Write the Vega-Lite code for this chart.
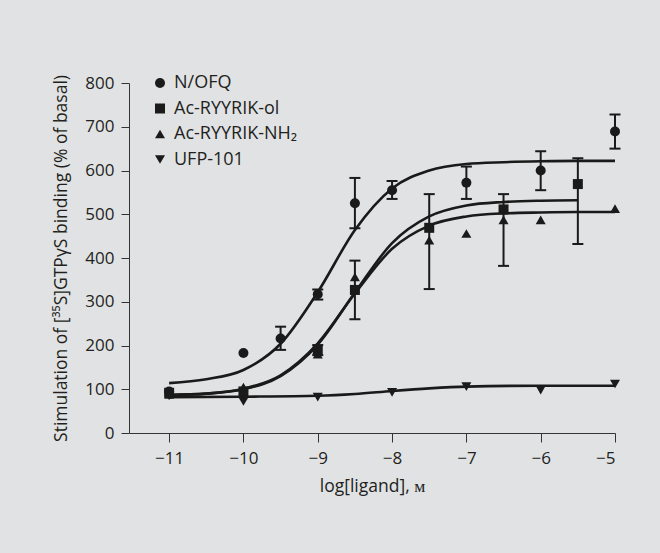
{
  "$schema": "https://vega.github.io/schema/vega-lite/v6.json",
  "width": 486,
  "height": 350,
  "autosize": {"type": "none"},
  "padding": {"left": 129, "top": 83, "right": 45, "bottom": 120},
  "background": "#e1e2e4",
  "config": {
    "view": {"stroke": null},
    "font": "Open Sans",
    "axis": {
      "grid": false,
      "domainColor": "#333333",
      "tickColor": "#333333",
      "domainWidth": 1,
      "tickWidth": 1,
      "labelColor": "#231f20",
      "titleColor": "#231f20",
      "labelFont": "Open Sans",
      "titleFont": "Open Sans",
      "labelFontSize": 17,
      "titleFontSize": 17.5,
      "titleFontWeight": "normal"
    }
  },
  "datasets": {
    "points": [
      {"compound": "N/OFQ", "x": -11, "y": 95},
      {"compound": "N/OFQ", "x": -10, "y": 183},
      {"compound": "N/OFQ", "x": -9.5, "y": 216, "lo": 190, "hi": 243},
      {"compound": "N/OFQ", "x": -9, "y": 317, "lo": 305, "hi": 328},
      {"compound": "N/OFQ", "x": -8.5, "y": 525, "lo": 468, "hi": 583},
      {"compound": "N/OFQ", "x": -8, "y": 555, "lo": 535, "hi": 576},
      {"compound": "N/OFQ", "x": -7, "y": 572, "lo": 535, "hi": 609},
      {"compound": "N/OFQ", "x": -6, "y": 600, "lo": 555, "hi": 644},
      {"compound": "N/OFQ", "x": -5, "y": 689, "lo": 650, "hi": 728},
      {"compound": "Ac-RYYRIK-ol", "x": -11, "y": 92},
      {"compound": "Ac-RYYRIK-ol", "x": -10, "y": 95},
      {"compound": "Ac-RYYRIK-ol", "x": -9, "y": 190, "lo": 178, "hi": 201},
      {"compound": "Ac-RYYRIK-ol", "x": -8.5, "y": 327, "lo": 260, "hi": 394},
      {"compound": "Ac-RYYRIK-ol", "x": -7.5, "y": 469, "lo": 329, "hi": 546},
      {"compound": "Ac-RYYRIK-ol", "x": -6.5, "y": 511, "lo": 382, "hi": 546},
      {"compound": "Ac-RYYRIK-ol", "x": -5.5, "y": 569, "lo": 432, "hi": 628},
      {"compound": "Ac-RYYRIK-NH₂", "x": -11, "y": 88},
      {"compound": "Ac-RYYRIK-NH₂", "x": -10, "y": 105},
      {"compound": "Ac-RYYRIK-NH₂", "x": -9, "y": 180},
      {"compound": "Ac-RYYRIK-NH₂", "x": -8.5, "y": 357},
      {"compound": "Ac-RYYRIK-NH₂", "x": -7.5, "y": 441},
      {"compound": "Ac-RYYRIK-NH₂", "x": -7, "y": 456},
      {"compound": "Ac-RYYRIK-NH₂", "x": -6.5, "y": 487},
      {"compound": "Ac-RYYRIK-NH₂", "x": -6, "y": 487},
      {"compound": "Ac-RYYRIK-NH₂", "x": -5, "y": 513},
      {"compound": "UFP-101", "x": -11, "y": 85},
      {"compound": "UFP-101", "x": -10, "y": 72},
      {"compound": "UFP-101", "x": -9, "y": 82},
      {"compound": "UFP-101", "x": -8, "y": 93},
      {"compound": "UFP-101", "x": -7, "y": 106},
      {"compound": "UFP-101", "x": -6, "y": 98},
      {"compound": "UFP-101", "x": -5, "y": 112}
    ],
    "curves": [
      {"compound": "N/OFQ", "x": -11, "y": 114},
      {"compound": "N/OFQ", "x": -10.5, "y": 123},
      {"compound": "N/OFQ", "x": -10, "y": 144},
      {"compound": "N/OFQ", "x": -9.5, "y": 204},
      {"compound": "N/OFQ", "x": -9, "y": 322},
      {"compound": "N/OFQ", "x": -8.5, "y": 464},
      {"compound": "N/OFQ", "x": -8, "y": 559},
      {"compound": "N/OFQ", "x": -7.5, "y": 600},
      {"compound": "N/OFQ", "x": -7, "y": 615},
      {"compound": "N/OFQ", "x": -6.5, "y": 619},
      {"compound": "N/OFQ", "x": -6, "y": 621},
      {"compound": "N/OFQ", "x": -5.5, "y": 622},
      {"compound": "N/OFQ", "x": -5, "y": 622},
      {"compound": "Ac-RYYRIK-ol", "x": -11, "y": 87},
      {"compound": "Ac-RYYRIK-ol", "x": -10.5, "y": 90},
      {"compound": "Ac-RYYRIK-ol", "x": -10, "y": 100},
      {"compound": "Ac-RYYRIK-ol", "x": -9.5, "y": 130},
      {"compound": "Ac-RYYRIK-ol", "x": -9, "y": 202},
      {"compound": "Ac-RYYRIK-ol", "x": -8.5, "y": 321},
      {"compound": "Ac-RYYRIK-ol", "x": -8, "y": 434},
      {"compound": "Ac-RYYRIK-ol", "x": -7.5, "y": 495},
      {"compound": "Ac-RYYRIK-ol", "x": -7, "y": 520},
      {"compound": "Ac-RYYRIK-ol", "x": -6.5, "y": 528},
      {"compound": "Ac-RYYRIK-ol", "x": -6, "y": 531},
      {"compound": "Ac-RYYRIK-ol", "x": -5.5, "y": 532},
      {"compound": "Ac-RYYRIK-NH₂", "x": -11, "y": 87},
      {"compound": "Ac-RYYRIK-NH₂", "x": -10.5, "y": 90},
      {"compound": "Ac-RYYRIK-NH₂", "x": -10, "y": 101},
      {"compound": "Ac-RYYRIK-NH₂", "x": -9.5, "y": 132},
      {"compound": "Ac-RYYRIK-NH₂", "x": -9, "y": 205},
      {"compound": "Ac-RYYRIK-NH₂", "x": -8.5, "y": 319},
      {"compound": "Ac-RYYRIK-NH₂", "x": -8, "y": 421},
      {"compound": "Ac-RYYRIK-NH₂", "x": -7.5, "y": 474},
      {"compound": "Ac-RYYRIK-NH₂", "x": -7, "y": 495},
      {"compound": "Ac-RYYRIK-NH₂", "x": -6.5, "y": 502},
      {"compound": "Ac-RYYRIK-NH₂", "x": -6, "y": 504},
      {"compound": "Ac-RYYRIK-NH₂", "x": -5.5, "y": 505},
      {"compound": "Ac-RYYRIK-NH₂", "x": -5, "y": 505},
      {"compound": "UFP-101", "x": -11, "y": 82},
      {"compound": "UFP-101", "x": -10, "y": 83},
      {"compound": "UFP-101", "x": -9, "y": 85},
      {"compound": "UFP-101", "x": -8.5, "y": 89},
      {"compound": "UFP-101", "x": -8, "y": 96},
      {"compound": "UFP-101", "x": -7.5, "y": 102},
      {"compound": "UFP-101", "x": -7, "y": 106},
      {"compound": "UFP-101", "x": -6, "y": 108},
      {"compound": "UFP-101", "x": -5, "y": 108}
    ]
  },
  "encoding": {
    "x": {
      "field": "x",
      "type": "quantitative",
      "scale": {"domain": [-11.54, -5], "nice": false, "zero": false},
      "axis": {
        "title": "log[ligand], ᴍ",
        "values": [-11, -10, -9, -8, -7, -6, -5],
        "labelExpr": "datum.value < 0 ? '−' + abs(datum.value) : '' + datum.value",
        "tickSize": 9,
        "labelPadding": 8,
        "titlePadding": 11
      }
    },
    "y": {
      "field": "y",
      "type": "quantitative",
      "scale": {"domain": [0, 800], "nice": false},
      "axis": {
        "title": "Stimulation of [³⁵S]GTPγS binding (% of basal)",
        "values": [0, 100, 200, 300, 400, 500, 600, 700, 800],
        "tickSize": 8,
        "labelPadding": 7,
        "titlePadding": 14
      }
    }
  },
  "layer": [
    {
      "data": {"name": "curves"},
      "mark": {"type": "line", "color": "#1a1a1a", "strokeWidth": 2.6, "interpolate": "monotone", "clip": false},
      "encoding": {"detail": {"field": "compound"}}
    },
    {
      "data": {"name": "points"},
      "transform": [{"filter": "isValid(datum.lo)"}],
      "mark": {"type": "rule", "color": "#1a1a1a", "strokeWidth": 2, "clip": false},
      "encoding": {"y": {"field": "lo", "type": "quantitative"}, "y2": {"field": "hi"}}
    },
    {
      "data": {"name": "points"},
      "transform": [{"filter": "isValid(datum.lo)"}],
      "mark": {"type": "tick", "orient": "horizontal", "color": "#1a1a1a", "thickness": 2, "size": 11, "opacity": 1, "clip": false},
      "encoding": {"y": {"field": "lo", "type": "quantitative"}}
    },
    {
      "data": {"name": "points"},
      "transform": [{"filter": "isValid(datum.hi)"}],
      "mark": {"type": "tick", "orient": "horizontal", "color": "#1a1a1a", "thickness": 2, "size": 11, "opacity": 1, "clip": false},
      "encoding": {"y": {"field": "hi", "type": "quantitative"}}
    },
    {
      "data": {"name": "points"},
      "mark": {"type": "point", "filled": true, "opacity": 1, "color": "#1a1a1a", "size": 100, "clip": false},
      "encoding": {
        "shape": {
          "field": "compound",
          "type": "nominal",
          "scale": {
            "domain": ["N/OFQ", "Ac-RYYRIK-ol", "Ac-RYYRIK-NH₂", "UFP-101"],
            "range": ["circle", "square", "triangle-up", "triangle-down"]
          },
          "legend": {
            "title": null,
            "orient": "none",
            "legendX": 22,
            "legendY": -9,
            "labelFont": "Open Sans",
            "labelFontSize": 18,
            "labelColor": "#231f20",
            "symbolFillColor": "#1a1a1a",
            "symbolStrokeColor": "#1a1a1a",
            "symbolSize": 100,
            "symbolOpacity": 1,
            "rowPadding": 7.5,
            "labelOffset": 5
          }
        }
      }
    }
  ]
}
